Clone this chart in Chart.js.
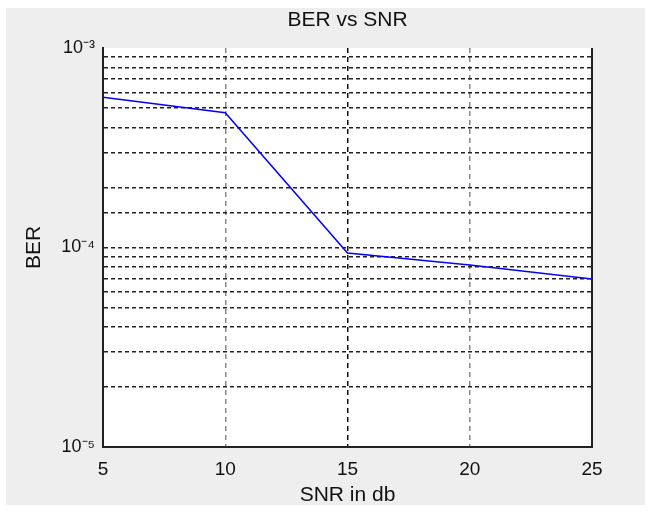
<!DOCTYPE html>
<html>
<head>
<meta charset="utf-8">
<title>BER vs SNR</title>
<script src="https://cdn.jsdelivr.net/npm/chart.js@4.4.1/dist/chart.umd.min.js"></script>
<style>
    html, body { margin: 0; padding: 0; background: #ffffff; }
    #wrap { width: 650px; height: 512px; }
</style>
</head>
<body>
<div id="wrap"><canvas id="grafica" width="650" height="512"></canvas></div>
<script>
// datos
const snrDb = [5, 10, 15, 20, 25];
const berValues = [5.66e-4, 4.74e-4, 9.38e-5, 8.17e-5, 6.95e-5];
const yTickValues = [1e-5, 1e-4, 1e-3];
const yTickLabels = ['10\u207B\u2075', '10\u207B\u2074', '10\u207B\u00B3'];
const xTickLabels = ['5', '10', '15', '20', '25'];

const fuente = "'Liberation Sans', Arial, Helvetica, sans-serif";

// fondo gris de la figura y caja blanca del eje
const fondoFigura = {
    id: 'fondoFigura',
    beforeDraw(chart) {
        const ctx = chart.ctx;
        const area = chart.chartArea;
        ctx.save();
        ctx.fillStyle = '#eeeeee';
        ctx.fillRect(6, 8, 639, 497);
        ctx.fillStyle = '#ffffff';
        ctx.fillRect(area.left, area.top, area.right - area.left, area.bottom - area.top);
        ctx.restore();
    },
    afterDraw(chart) {
        // borde derecho del eje
        const ctx = chart.ctx;
        const area = chart.chartArea;
        ctx.save();
        ctx.strokeStyle = '#222222';
        ctx.lineWidth = 2;
        ctx.beginPath();
        ctx.moveTo(area.right, area.top);
        ctx.lineTo(area.right, area.bottom + 1);
        ctx.stroke();
        ctx.restore();
    }
};

function esDecada(v) {
    return yTickValues.findIndex(t => Math.abs(v - t) / t < 1e-6);
}

const ctx = document.getElementById('grafica').getContext('2d');
new Chart(ctx, {
    type: 'line',
    data: {
        datasets: [{
            label: 'BER',
            data: snrDb.map((x, i) => ({ x: x, y: berValues[i] })),
            borderColor: '#0000ff',
            borderWidth: 1.5,
            pointRadius: 0,
            tension: 0,
            fill: false
        }]
    },
    options: {
        responsive: false,
        animation: false,
        layout: { padding: { left: 0, right: 58, top: 0, bottom: 0 } },
        plugins: {
            legend: { display: false },
            tooltip: { enabled: false },
            title: {
                display: true,
                fullSize: false,
                text: 'BER vs SNR',
                color: '#111111',
                font: { family: fuente, size: 21, weight: 'normal' },
                padding: { top: 7.4, bottom: 15.4 }
            }
        },
        scales: {
            x: {
                type: 'linear',
                min: 5,
                max: 25,
                afterFit(scale) { scale.height = 65; },
                border: { display: true, color: '#222222', width: 2, dash: [5, 4] },
                grid: {
                    drawTicks: false,
                    color(c) {
                        const v = c.tick ? c.tick.value : null;
                        if (v === 5 || v === 25) return 'rgba(0,0,0,0)';
                        return v === 15 ? '#111111' : '#888888';
                    },
                    lineWidth: 1.5
                },
                ticks: {
                    stepSize: 5,
                    padding: 11,
                    color: '#111111',
                    font: { family: fuente, size: 19 },
                    callback(v) {
                        const i = snrDb.indexOf(v);
                        return i >= 0 ? xTickLabels[i] : '';
                    }
                },
                title: {
                    display: true,
                    text: 'SNR in db',
                    color: '#111111',
                    font: { family: fuente, size: 21 },
                    padding: { top: 0, bottom: 4.4 }
                }
            },
            y: {
                type: 'logarithmic',
                min: 1e-5,
                max: 1e-3,
                afterFit(scale) { scale.width = 103; },
                border: { display: true, color: '#222222', width: 2, dash: [4, 3] },
                grid: {
                    drawTicks: false,
                    color(c) {
                        const v = c.tick ? c.tick.value : null;
                        if (v === null) return 'rgba(0,0,0,0)';
                        if (Math.abs(v - 1e-3) < 1e-9 || Math.abs(v - 1e-5) < 1e-11) return 'rgba(0,0,0,0)';
                        return '#222222';
                    },
                    lineWidth: 1.5
                },
                ticks: {
                    padding: 8,
                    color: '#111111',
                    font: { family: fuente, size: 18 },
                    autoSkip: false,
                    callback(v) {
                        const i = esDecada(v);
                        return i >= 0 ? yTickLabels[i] : '';
                    }
                },
                title: {
                    display: true,
                    text: 'BER',
                    color: '#111111',
                    font: { family: fuente, size: 21 },
                    padding: { top: 21.4, bottom: 0 }
                }
            }
        }
    },
    plugins: [fondoFigura]
});
</script>
</body>
</html>
